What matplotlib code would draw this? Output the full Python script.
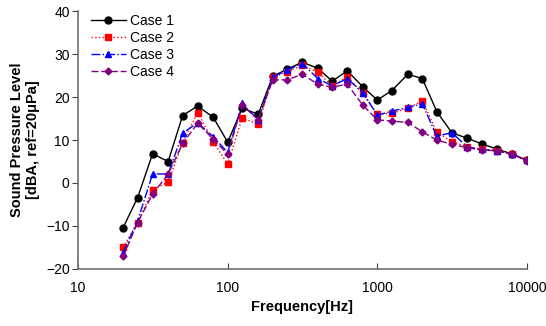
import matplotlib
matplotlib.use("Agg")
import matplotlib.pyplot as plt
from matplotlib.ticker import FixedLocator, NullLocator

plt.rcParams['font.family'] = ['Liberation Sans', 'DejaVu Sans']

# 1/3 octave band centre frequencies
freq = [20, 25, 31.5, 40, 50, 63, 80, 100, 125, 160, 200, 250, 315, 400, 500,
        630, 800, 1000, 1250, 1600, 2000, 2500, 3150, 4000, 5000, 6300, 8000, 10000]

case1 = [-10.4, -3.4, 6.8, 5.0, 15.7, 17.9, 15.3, 9.5, 17.4, 16.0, 24.8, 26.5, 28.1, 26.7,
         23.7, 26.1, 22.4, 19.3, 21.5, 25.3, 24.3, 16.6, 11.7, 10.4, 9.1, 7.9, 6.7, 5.3]
case2 = [-15.0, -9.2, -1.6, 0.2, 9.4, 16.4, 9.6, 4.4, 15.1, 13.7, 24.6, 25.9, 27.4, 25.8,
         22.6, 24.7, 20.9, 16.0, 16.2, 17.4, 19.1, 11.8, 9.6, 8.4, 7.8, 7.5, 6.7, 5.3]
case3 = [-16.2, -8.8, 2.1, 2.1, 11.6, 14.0, 10.8, 7.1, 18.5, 14.7, 24.6, 26.3, 27.8, 24.3,
         22.6, 24.3, 21.0, 15.8, 16.7, 17.6, 18.4, 10.9, 11.7, 8.4, 7.8, 7.5, 6.7, 5.3]
case4 = [-17.1, -9.2, -2.6, 2.1, 9.2, 13.9, 10.2, 6.7, 18.1, 14.7, 24.0, 24.0, 25.3, 23.0,
         22.3, 23.0, 18.1, 14.7, 14.4, 14.1, 11.9, 10.0, 9.0, 8.2, 7.7, 7.5, 6.7, 5.1]

fig = plt.figure(figsize=(5.46, 3.26), dpi=100)
ax = fig.add_axes([0.143, 0.175, 0.822, 0.791])

ax.plot(freq, case1, color='black', ls='-', lw=1.0, marker='o', ms=5, label='Case 1')
ax.plot(freq, case2, color='red', ls=':', lw=1.0, marker='s', ms=4.5, label='Case 2')
ax.plot(freq, case3, color='blue', ls='-.', lw=1.0, marker='^', ms=4.5, label='Case 3')
ax.plot(freq, case4, color='purple', ls=(0, (5, 2)), lw=1.0, marker='D', ms=3.5, label='Case 4')

ax.set_xscale('log')
ax.set_xlim(10, 10000)
ax.set_ylim(-20, 40)
ax.xaxis.set_major_locator(FixedLocator([10, 100, 1000, 10000]))
ax.xaxis.set_minor_locator(NullLocator())
ax.set_xticklabels(['10', '100', '1000', '10000'])
ax.set_yticks(range(-20, 41, 10))

for s in ['top', 'right']:
    ax.spines[s].set_visible(False)
for s in ['left', 'bottom']:
    ax.spines[s].set_color('#707070')
    ax.spines[s].set_linewidth(1.2)

ax.tick_params(axis='y', direction='out', length=4, color='#404040', labelsize=10, pad=2)
ax.tick_params(axis='x', direction='in', length=4, color='#404040', labelsize=10, pad=9)

ax.set_xlabel('Frequency[Hz]', fontsize=10.5, fontweight='bold', labelpad=3)
ax.set_ylabel('Sound Pressure Level\n[dBA, ref=20\u03bcPa]', fontsize=10.5,
              fontweight='bold', labelpad=4)

ax.legend(loc='upper left', bbox_to_anchor=(0.01, 1.02), frameon=False, fontsize=10,
          handlelength=2.5, handletextpad=0.3, labelspacing=0.2, borderaxespad=0.2)

fig.savefig('out.png', dpi=100)
